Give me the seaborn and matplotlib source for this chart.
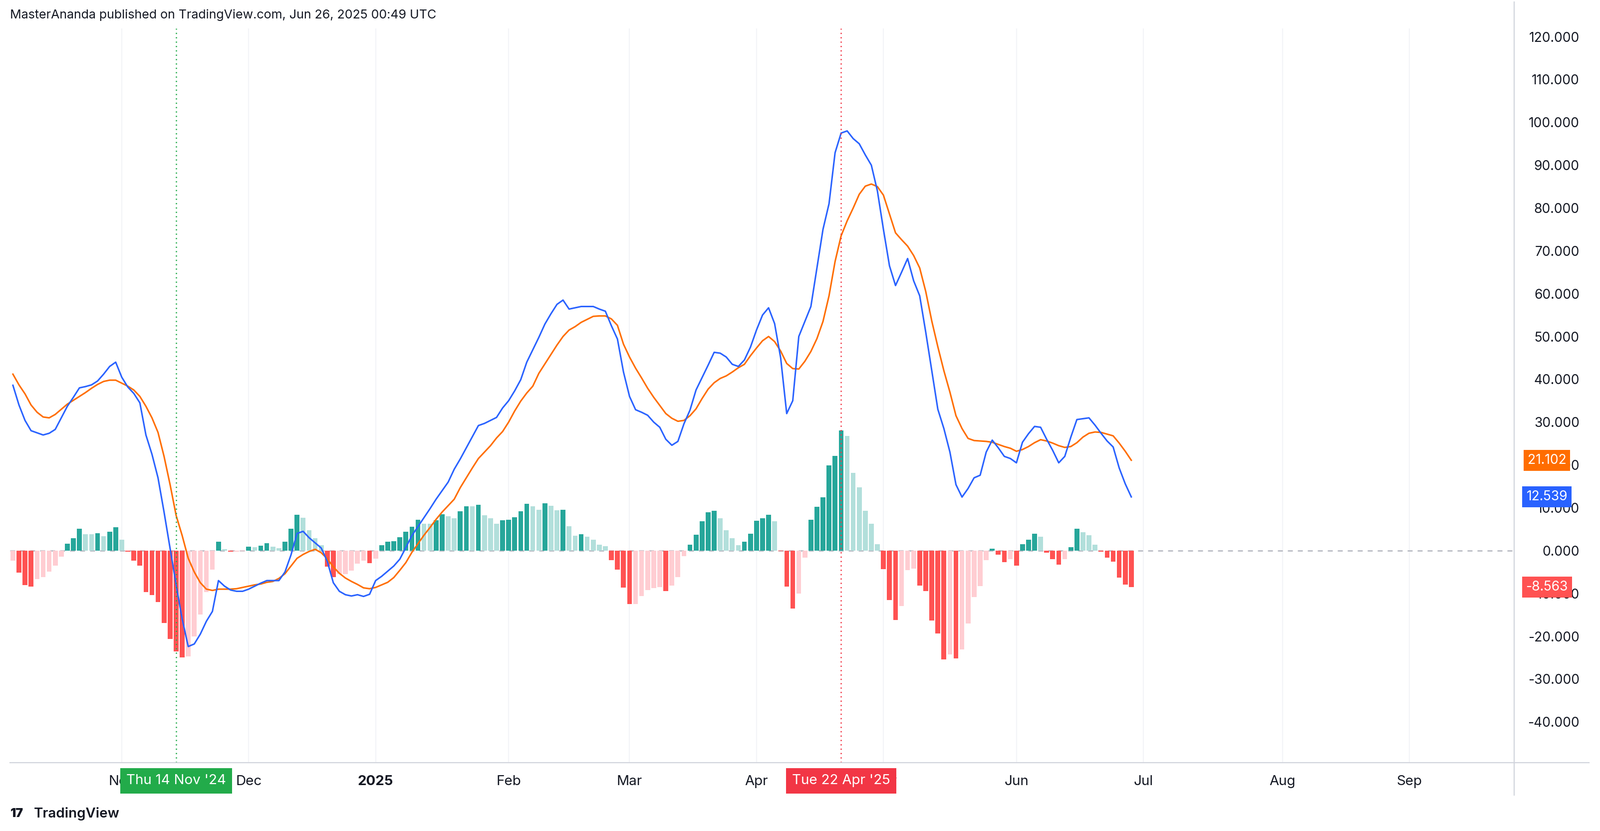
import numpy as np
import pandas as pd
import matplotlib
matplotlib.use("Agg")
import matplotlib.pyplot as plt
import matplotlib.transforms as mtransforms
from matplotlib.lines import Line2D
import seaborn as sns

# ---------------- data ----------------
start_date = "2024-10-08"
holidays = ["2024-12-25", "2025-01-01", "2025-04-18"]
macd = [38.6, 34, 30.4, 28, 27.5, 27, 27.4, 28.3, 31, 33.7,
        35.8, 38, 38.3, 38.7, 39.6, 41.2, 43, 44, 40.5, 38.2,
        36.7, 34.5, 27, 22.5, 17, 9, 0.5, -8, -16, -22.4,
        -21.8, -19.5, -16.5, -14.2, -7, -8.3, -9.2, -9.5, -9.5, -9,
        -8.3, -7.6, -7, -7, -7, -5, -1, 4, 4.5, 3,
        1.8, 0.6, -2.5, -7.5, -9.5, -10.3, -10.6, -10.3, -10.7,
        -10.2, -7, -6, -4.8, -3.6, -2, 0.7, 3.5, 5.6, 7.7,
        9.8, 12, 14, 16, 19, 21.4, 24, 26.6, 29.2, 29.7,
        30.4, 31.1, 33.3, 35, 37.3, 39.9, 44, 46.9, 49.8, 52.9,
        55.3, 57.5, 58.5, 56.4, 56.7, 57, 57, 57, 56.4, 55.9,
        52.5, 49.4, 41.7, 36, 32.9, 32.3, 31.6, 30, 28.8, 26,
        24.6, 25.5, 29.6, 32.8, 37.5, 40.4, 43.3, 46.3, 46.1, 45.2,
        43.5, 43, 44.5, 47.5, 51.5, 55, 56.7, 53, 45,
        32, 35, 50, 53.5, 57, 66, 75, 81, 92.9, 97.5,
        98, 96.2, 95, 92.4, 90, 84, 75, 66.5, 61.9, 65,
        68.2, 63, 59.5, 51, 42, 33, 28.5, 23, 15.4, 12.5,
        14.5, 17, 17.6, 23, 25.8, 24, 22, 21.5, 20.5, 25.3,
        27.3, 29, 28.8, 26, 23.4, 20.5, 22, 26.5, 30.6, 30.8,
        31, 29.3, 27.4, 25.6, 24.2, 19.3, 15.6, 12.539]
signal = [41.2, 38.7, 36.6, 34, 32.3, 31.2, 31, 31.8, 33, 34.2,
          35.1, 36, 36.9, 37.9, 38.8, 39.5, 39.8, 39.8, 39.1, 38.4,
          37.5, 36, 33.7, 31, 27.6, 22, 15.4, 8.2, 3.5, -1.8,
          -5, -7.5, -9, -9.3, -9, -9, -9, -8.9, -8.6, -8.3,
          -8, -7.8, -7.4, -7.2, -6.5, -5.4, -3.6, -1.8, -0.9, -0.2,
          0.3, -0.5, -1.9, -3.8, -5.3, -6.4, -7.2, -7.9, -8.7,
          -8.9, -8.6, -8, -7.4, -6.3, -4.6, -2.8, -0.4, 1.6, 3.6,
          5.4, 7.3, 9, 10.5, 12, 14.7, 17, 19.3, 21.5, 23,
          24.5, 26.3, 27.8, 30, 32.6, 34.9, 36.8, 38.4, 41.4, 43.6,
          45.8, 48, 50, 51.5, 52.3, 53.3, 54, 54.7, 54.8, 54.8,
          54.1, 52.6, 48.2, 45.2, 42.6, 40.3, 37.9, 35.8, 33.9, 32,
          30.9, 30.2, 30.4, 31.5, 33.1, 35.5, 37.7, 39.2, 40.2, 40.8,
          41.7, 42.7, 43.5, 45.5, 47.3, 49, 50, 48.8, 46.6,
          43.7, 42.5, 42.4, 44.2, 46.5, 49.5, 53.5, 59.5, 67.5, 73.5,
          77, 80, 83.2, 85.1, 85.6, 85, 83, 78.6, 74.2, 72.6,
          71.1, 68.9, 66, 60.5, 53.6, 47.6, 42, 37, 31.5, 28.5,
          26.2, 25.7, 25.6, 25.5, 25.3, 24.8, 24.3, 23.9, 23.2, 23.6,
          24.3, 25.2, 25.9, 25.6, 25.1, 24.5, 24.1, 24.3, 25.2, 26.5,
          27.4, 27.7, 27.6, 27.2, 26.8, 25.1, 23.2, 21.102]
hist = [-2.3, -5.2, -8.0, -8.4, -6.6, -6.2, -4.9, -3.5, -1.4, 1.6,
        2.9, 5.1, 3.8, 3.8, 4.1, 3.4, 4.4, 5.4, 2.6, -0.3,
        -2.4, -3.5, -9.7, -10.4, -12.0, -16.9, -20.6, -23.6, -25.0, -24.7,
        -20.1, -14.9, -9.7, -4.5, 2.1, 0.35, -0.3, -0.3, -0.15, 0.9,
        0.8, 1.2, 1.7, 0.9, 0.6, 2.1, 5.1, 8.4, 7.7, 4.8,
        2.9, 1.3, -3.8, -6.2, -5.5, -5.5, -4.7, -3.0, -2.4, -2.9,
        -1.9, 1.3, 2.1, 2.2, 3.1, 4.4, 5.6, 7.2, 6.3, 6.3,
        7.1, 8.5, 8.0, 7.6, 9.2, 10.4, 10.4, 10.7, 8.3, 7.5,
        6.3, 7.1, 7.2, 7.8, 9.2, 10.9, 10.4, 9.5, 11.1, 10.5,
        9.4, 9.5, 5.7, 3.5, 3.8, 3.3, 2.6, 1.4, 1.0, -2.2,
        -4.5, -8.6, -12.5, -12.5, -10.6, -9.2, -8.7, -8.5, -9.4, -8.2,
        -6.2, -1.3, 1.4, 3.7, 6.9, 9.0, 9.3, 7.5, 4.8, 2.9,
        1.3, 2.1, 4.0, 7.0, 7.6, 8.4, 6.8, -0.1, -8.4, -13.5,
        -10.0, -1.7, 7.2, 10.2, 12.5, 19.9, 22.1, 28.0, 26.8, 18.1,
        14.8, 9.3, 6.3, 1.5, -4.3, -11.6, -16.2, -12.9, -4.6, -4.2,
        -8.2, -9.5, -16.3, -19.3, -25.4, -24.3, -25.2, -23.1, -17.0, -10.9,
        -8.3, -2.2, 0.5, -0.9, -2.7, -2.0, -3.5, 1.5, 2.6, 4.0,
        3.3, -0.5, -2.0, -3.3, -2.0, 0.8, 5.1, 4.3, 3.6, 1.4,
        -0.2, -1.6, -2.6, -6.3, -7.9, -8.563]
y_ticks = [-40, -30, -20, -10, 0, 10, 20, 30, 40, 50, 60, 70, 80, 90, 100, 110, 120]
marker_dates = ["2024-11-14", "2025-04-22"]
marker_labels = ["Thu 14 Nov '24", "Tue 22 Apr '25"]
header = "MasterAnanda published on TradingView.com, Jun 26, 2025 00:49 UTC"

# ---------------- prep ----------------
n = len(hist)
cbd = pd.offsets.CustomBusinessDay(holidays=holidays)
axis_dates = pd.date_range(start_date, "2025-09-30", freq=cbd)
df = pd.DataFrame({"i": np.arange(n), "macd": macd, "signal": signal, "hist": hist})
prev = df["hist"].shift(1).fillna(df["hist"])
def col(h, p):
    if h >= 0:
        return "#26A69A" if h > p else "#B2DFDB"
    return "#FF5252" if h < p else "#FFCDD2"
df["color"] = [col(h, p) for h, p in zip(df["hist"], prev)]

plt.rcParams["font.family"] = "Inter"
TXT = "#131722"

fig = plt.figure(figsize=(16.03, 8.33), dpi=200)
W, H = 1568.0, 815.0
L, R, T, B = 10 / W, 1484 / W, 1 - 28 / H, 1 - 748 / H
ax = fig.add_axes([L, B, R - L, T - B])
ax.set_facecolor("white")

months = []
seen = set()
for k, d in enumerate(axis_dates):
    key = (d.year, d.month)
    if key not in seen:
        seen.add(key)
        if k > 0:
            months.append((k, d))
for k, d in months:
    ax.axvline(k, color="#f3f4f7", lw=0.8, zorder=0)

ax.axhline(0, color="#b2b5be", lw=0.9, ls=(0, (4, 4)), zorder=1)

ax.bar(df["i"], df["hist"], width=0.8, color=df["color"], zorder=2, linewidth=0)
sns.lineplot(data=df, x="i", y="signal", ax=ax, color="#FF6D00", lw=1.1, zorder=3)
sns.lineplot(data=df, x="i", y="macd", ax=ax, color="#2962FF", lw=1.1, zorder=4)

x_max = (1484 - 10) / 5.935
ax.set_xlim(-0.45, x_max)
ax.set_ylim((540 - 748) / 4.2, (540 - 28) / 4.2)

for s in ax.spines.values():
    s.set_visible(False)
ax.set_xlabel("")
ax.set_ylabel("")

ax.yaxis.tick_right()
ax.set_yticks(y_ticks)
ax.set_yticklabels([f"{v:.3f}" for v in y_ticks])
ax.tick_params(axis="y", length=0, pad=47, labelsize=9.5, labelcolor=TXT)
for lab in ax.get_yticklabels():
    lab.set_ha("right")

tick_pos, tick_lab = [], []
for k, d in months:
    if k > x_max:
        continue
    tick_pos.append(k)
    tick_lab.append(str(d.year) if d.month == 1 else d.strftime("%b"))
ax.set_xticks(tick_pos)
ax.set_xticklabels(tick_lab)
ax.tick_params(axis="x", length=0, pad=9, labelsize=10, labelcolor=TXT)
for lab in ax.get_xticklabels():
    if lab.get_text() == "2025":
        lab.set_fontweight("bold")

mcolors = ["#22AB4A", "#F23645"]
tr = mtransforms.blended_transform_factory(ax.transData, ax.transAxes)
for md, ml, mc in zip(marker_dates, marker_labels, mcolors):
    k = axis_dates.get_loc(pd.Timestamp(md))
    ax.axvline(k, color=mc, lw=0.9, ls=(0, (1, 2.5)), zorder=5)
    ax.text(k, -0.0245, ml, transform=tr, ha="center", va="center", color="white",
            fontsize=10, zorder=10, clip_on=False,
            bbox=dict(boxstyle="square,pad=0.45", fc=mc, ec="none"))

trv = mtransforms.blended_transform_factory(ax.transAxes, ax.transData)
for val, c in [(signal[-1], "#FF6D00"), (macd[-1], "#2962FF"), (hist[-1], "#FF5252")]:
    ax.text(1.0217, val, f"{val:.3f}", transform=trv, ha="center", va="center",
            color="white", fontsize=9.5, clip_on=False, zorder=10,
            bbox=dict(boxstyle="square,pad=0.3", fc=c, ec="none"))

fig.add_artist(Line2D([10 / W, 1557 / W], [B, B], color="#d1d4dc", lw=0.8))
fig.add_artist(Line2D([R, R], [1 - 780 / H, 1 - 2 / H], color="#d1d4dc", lw=0.8))

fig.text(10 / W, 1 - 15 / H, header, fontsize=9, color=TXT, va="center", ha="left")
fig.text(33 / W, 1 - 798 / H, "TradingView", fontsize=10, color=TXT, va="center",
         ha="left", fontweight="semibold")
fig.text(10 / W, 1 - 798 / H, "17", fontsize=9, color=TXT, va="center", ha="left",
         fontweight="black")

fig.savefig("out.png", dpi=200, facecolor="white")
